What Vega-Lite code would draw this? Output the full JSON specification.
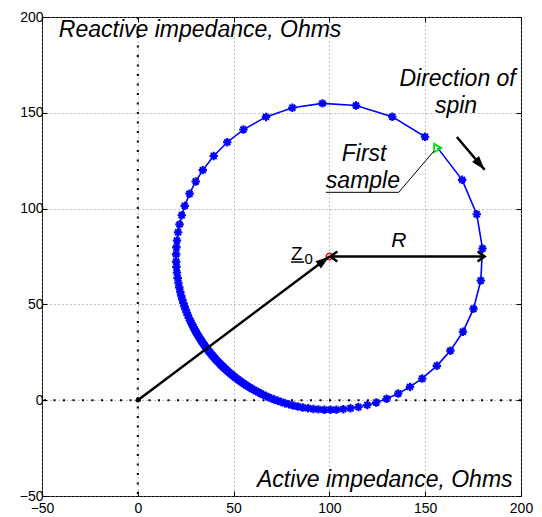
{
  "$schema": "https://vega.github.io/schema/vega-lite/v6.json",
  "width": 479,
  "height": 479,
  "autosize": {"type": "none"},
  "padding": {"left": 42, "top": 17, "right": 21, "bottom": 21},
  "background": "white",
  "config": {
    "view": {"stroke": "black", "strokeWidth": 1},
    "axis": {"labelFont": "Liberation Sans", "labelFontSize": 14, "labelColor": "black", "tickColor": "black", "domain": false, "gridColor": "#888888", "gridDash": [1, 3], "gridWidth": 1, "gridOpacity": 1, "labelFlush": false, "labelOverlap": false}
  },
  "datasets": {
    "circle": [
      {"i":1,"x":156.57,"y":131.57},{"i":2,"x":169.28,"y":115.0},{"i":3,"x":176.9,"y":97.05},{"i":4,"x":179.89,"y":79.19},
      {"i":5,"x":179.02,"y":62.49},{"i":6,"x":175.22,"y":47.77},{"i":7,"x":169.7,"y":35.73},{"i":8,"x":163.13,"y":25.86},
      {"i":9,"x":156.07,"y":17.94},{"i":10,"x":148.48,"y":11.36},{"i":11,"x":142.04,"y":6.94},{"i":12,"x":135.94,"y":3.53},
      {"i":13,"x":129.84,"y":0.78},{"i":14,"x":124.46,"y":-1.17},{"i":15,"x":119.76,"y":-2.52},{"i":16,"x":115.13,"y":-3.56},
      {"i":17,"x":110.99,"y":-4.24},{"i":18,"x":107.25,"y":-4.67},{"i":19,"x":103.63,"y":-4.92},{"i":20,"x":100.56,"y":-5.0},
      {"i":21,"x":97.35,"y":-4.96},{"i":22,"x":94.28,"y":-4.79},{"i":23,"x":91.64,"y":-4.56},{"i":24,"x":88.9,"y":-4.22},
      {"i":25,"x":86.11,"y":-3.78},{"i":26,"x":83.53,"y":-3.29},{"i":27,"x":81.18,"y":-2.75},{"i":28,"x":78.93,"y":-2.18},
      {"i":29,"x":76.84,"y":-1.58},{"i":30,"x":74.88,"y":-0.95},{"i":31,"x":73.06,"y":-0.33},{"i":32,"x":71.34,"y":0.31},
      {"i":33,"x":69.74,"y":0.94},{"i":34,"x":68.22,"y":1.58},{"i":35,"x":66.78,"y":2.22},{"i":36,"x":65.41,"y":2.86},
      {"i":37,"x":64.12,"y":3.5},{"i":38,"x":62.89,"y":4.13},{"i":39,"x":61.71,"y":4.76},{"i":40,"x":60.59,"y":5.38},
      {"i":41,"x":59.52,"y":6.0},{"i":42,"x":58.49,"y":6.61},{"i":43,"x":57.5,"y":7.22},{"i":44,"x":56.54,"y":7.83},
      {"i":45,"x":55.62,"y":8.44},{"i":46,"x":54.74,"y":9.03},{"i":47,"x":53.89,"y":9.63},{"i":48,"x":53.06,"y":10.22},
      {"i":49,"x":52.25,"y":10.82},{"i":50,"x":51.46,"y":11.41},{"i":51,"x":50.71,"y":11.99},{"i":52,"x":49.97,"y":12.58},
      {"i":53,"x":49.25,"y":13.16},{"i":54,"x":48.54,"y":13.74},{"i":55,"x":47.85,"y":14.34},{"i":56,"x":47.18,"y":14.92},
      {"i":57,"x":46.51,"y":15.51},{"i":58,"x":45.86,"y":16.1},{"i":59,"x":45.22,"y":16.7},{"i":60,"x":44.59,"y":17.3},
      {"i":61,"x":43.97,"y":17.9},{"i":62,"x":43.35,"y":18.51},{"i":63,"x":42.75,"y":19.12},{"i":64,"x":42.16,"y":19.74},
      {"i":65,"x":41.57,"y":20.36},{"i":66,"x":40.98,"y":20.99},{"i":67,"x":40.41,"y":21.63},{"i":68,"x":39.84,"y":22.28},
      {"i":69,"x":39.26,"y":22.95},{"i":70,"x":38.7,"y":23.59},{"i":71,"x":38.14,"y":24.29},{"i":72,"x":37.56,"y":24.99},
      {"i":73,"x":36.99,"y":25.71},{"i":74,"x":36.43,"y":26.43},{"i":75,"x":35.88,"y":27.17},{"i":76,"x":35.3,"y":27.94},
      {"i":77,"x":34.74,"y":28.72},{"i":78,"x":34.18,"y":29.51},{"i":79,"x":33.62,"y":30.34},{"i":80,"x":33.06,"y":31.19},
      {"i":81,"x":32.49,"y":32.07},{"i":82,"x":31.93,"y":32.98},{"i":83,"x":31.35,"y":33.92},{"i":84,"x":30.78,"y":34.9},
      {"i":85,"x":30.21,"y":35.9},{"i":86,"x":29.63,"y":36.95},{"i":87,"x":29.05,"y":38.05},{"i":88,"x":28.46,"y":39.19},
      {"i":89,"x":27.88,"y":40.38},{"i":90,"x":27.29,"y":41.63},{"i":91,"x":26.7,"y":42.94},{"i":92,"x":26.11,"y":44.34},
      {"i":93,"x":25.52,"y":45.79},{"i":94,"x":24.94,"y":47.34},{"i":95,"x":24.35,"y":48.97},{"i":96,"x":23.78,"y":50.7},
      {"i":97,"x":23.22,"y":52.54},{"i":98,"x":22.66,"y":54.52},{"i":99,"x":22.14,"y":56.64},{"i":100,"x":21.64,"y":58.9},
      {"i":101,"x":21.18,"y":61.27},{"i":102,"x":20.78,"y":63.86},{"i":103,"x":20.43,"y":66.68},{"i":104,"x":20.18,"y":69.56},
      {"i":105,"x":20.04,"y":72.35},{"i":106,"x":20.01,"y":76.12},{"i":107,"x":20.14,"y":79.74},{"i":108,"x":20.44,"y":83.36},
      {"i":109,"x":21.01,"y":87.65},{"i":110,"x":21.78,"y":91.77},{"i":111,"x":22.94,"y":96.51},{"i":112,"x":24.5,"y":101.44},
      {"i":113,"x":27.03,"y":107.79},{"i":114,"x":30.23,"y":114.15},{"i":115,"x":33.91,"y":120.08},{"i":116,"x":39.62,"y":127.49},
      {"i":117,"x":46.68,"y":134.64},{"i":118,"x":55.15,"y":141.25},{"i":119,"x":66.95,"y":147.86},{"i":120,"x":80.65,"y":152.62},
      {"i":121,"x":96.37,"y":154.92},{"i":122,"x":113.89,"y":153.78},{"i":123,"x":132.79,"y":147.97},{"i":124,"x":149.91,"y":137.52}
    ],
    "pts": [
      {"name":"origin","x":0,"y":0},
      {"name":"center","x":100,"y":75},
      {"name":"first","x":156.57,"y":131.57}
    ],
    "segs": [
      {"name":"Z0","x":0,"y":0,"x2":100,"y2":75},
      {"name":"R","x":100.5,"y":75,"x2":181,"y2":75},
      {"name":"spin","x":166.5,"y":137.4,"x2":181.0,"y2":120.3},
      {"name":"Zbar","x":80,"y":72.1,"x2":86.8,"y2":72.1}
    ],
    "heads": [
      {"name":"Z0","x":100,"y":75},
      {"name":"spin","x":181.0,"y":120.3},
      {"name":"Rright","x":181,"y":75},
      {"name":"Rleft","x":100.5,"y":75}
    ],
    "leader": [
      {"k":1,"x":154.6,"y":130.1},
      {"k":2,"x":136.2,"y":108.5},
      {"k":3,"x":98.2,"y":108.5}
    ],
    "labels": [
      {"label":"Reactive impedance, Ohms","x":-41.2,"y":189.6},
      {"label":"Active impedance, Ohms","x":195.6,"y":-45.3},
      {"label":"Direction of","x":166.9,"y":164.0},
      {"label":"spin","x":166.1,"y":149.9},
      {"label":"First","x":118.1,"y":124.8},
      {"label":"sample","x":117.5,"y":110.8},
      {"label":"R","x":136.3,"y":80.0},
      {"label":"Z","x":80.0,"y":73.4},
      {"label":"0","x":87.0,"y":71.0}
    ]
  },
  "layer": [
    {
      "data": {"name": "circle"},
      "mark": {"type": "line", "color": "#0000ff", "strokeWidth": 1.6},
      "encoding": {
        "x": {"field": "x", "type": "quantitative", "title": null, "scale": {"domain": [-50, 200], "nice": false, "zero": false},
              "axis": {"orient": "bottom", "values": [-50, 0, 50, 100, 150, 200], "grid": true, "tickSize": -5, "labelPadding": 10}},
        "y": {"field": "y", "type": "quantitative", "title": null, "scale": {"domain": [-50, 200], "nice": false, "zero": false},
              "axis": {"orient": "left", "values": [-50, 0, 50, 100, 150, 200], "grid": true, "tickSize": -5, "labelPadding": 4}},
        "order": {"field": "i"}
      }
    },
    {
      "data": {"name": "pts"},
      "transform": [{"filter": "datum.name == 'origin'"}],
      "mark": {"type": "rule", "color": "black", "strokeWidth": 2, "strokeDash": [2, 7.5]},
      "encoding": {
        "x": {"field": "x", "type": "quantitative", "title": null, "scale": {"domain": [-50, 200], "nice": false, "zero": false}, "axis": null}
      }
    },
    {
      "data": {"name": "pts"},
      "transform": [{"filter": "datum.name == 'origin'"}],
      "mark": {"type": "rule", "color": "black", "strokeWidth": 2, "strokeDash": [2, 7.5]},
      "encoding": {
        "y": {"field": "y", "type": "quantitative", "title": null, "scale": {"domain": [-50, 200], "nice": false, "zero": false}, "axis": null}
      }
    },
    {
      "data": {"name": "circle"},
      "transform": [{"filter": "datum.i > 1"}],
      "mark": {"type": "point", "shape": "M-1,0L1,0M0,-1L0,1M-0.7,-0.7L0.7,0.7M-0.7,0.7L0.7,-0.7", "size": 72, "filled": false, "color": "#0000ff", "strokeWidth": 2.1, "opacity": 1},
      "encoding": {
        "x": {"field": "x", "type": "quantitative", "title": null, "scale": {"domain": [-50, 200], "nice": false, "zero": false},
              "axis": {"orient": "top", "values": [-50, 0, 50, 100, 150, 200], "grid": false, "labels": false, "tickSize": -5}},
        "y": {"field": "y", "type": "quantitative", "title": null, "scale": {"domain": [-50, 200], "nice": false, "zero": false},
              "axis": {"orient": "right", "values": [-50, 0, 50, 100, 150, 200], "grid": false, "labels": false, "tickSize": -5}}
      }
    },
    {
      "data": {"name": "pts"},
      "transform": [{"filter": "datum.name == 'first'"}],
      "mark": {"type": "point", "shape": "triangle-right", "size": 70, "filled": false, "color": "#00dd00", "strokeWidth": 1.8, "opacity": 1},
      "encoding": {
        "x": {"field": "x", "type": "quantitative", "title": null, "scale": {"domain": [-50, 200], "nice": false, "zero": false}, "axis": null},
        "y": {"field": "y", "type": "quantitative", "title": null, "scale": {"domain": [-50, 200], "nice": false, "zero": false}, "axis": null}
      }
    },
    {
      "data": {"name": "pts"},
      "transform": [{"filter": "datum.name == 'center'"}],
      "mark": {"type": "point", "shape": "circle", "size": 40, "filled": false, "color": "#ff0000", "strokeWidth": 1.5, "opacity": 1},
      "encoding": {
        "x": {"field": "x", "type": "quantitative", "title": null, "scale": {"domain": [-50, 200], "nice": false, "zero": false}, "axis": null},
        "y": {"field": "y", "type": "quantitative", "title": null, "scale": {"domain": [-50, 200], "nice": false, "zero": false}, "axis": null}
      }
    },
    {
      "data": {"name": "pts"},
      "transform": [{"filter": "datum.name == 'origin'"}],
      "mark": {"type": "point", "shape": "circle", "size": 22, "filled": true, "color": "black", "opacity": 1},
      "encoding": {
        "x": {"field": "x", "type": "quantitative", "title": null, "scale": {"domain": [-50, 200], "nice": false, "zero": false}, "axis": null},
        "y": {"field": "y", "type": "quantitative", "title": null, "scale": {"domain": [-50, 200], "nice": false, "zero": false}, "axis": null}
      }
    },
    {
      "data": {"name": "segs"},
      "transform": [{"filter": "datum.name != 'Zbar'"}],
      "mark": {"type": "rule", "color": "black", "strokeWidth": 2.5},
      "encoding": {
        "x": {"field": "x", "type": "quantitative", "title": null, "scale": {"domain": [-50, 200], "nice": false, "zero": false}, "axis": null},
        "y": {"field": "y", "type": "quantitative", "title": null, "scale": {"domain": [-50, 200], "nice": false, "zero": false}, "axis": null},
        "x2": {"field": "x2"},
        "y2": {"field": "y2"}
      }
    },
    {
      "data": {"name": "segs"},
      "transform": [{"filter": "datum.name == 'Zbar'"}],
      "mark": {"type": "rule", "color": "black", "strokeWidth": 1.5},
      "encoding": {
        "x": {"field": "x", "type": "quantitative", "title": null, "scale": {"domain": [-50, 200], "nice": false, "zero": false}, "axis": null},
        "y": {"field": "y", "type": "quantitative", "title": null, "scale": {"domain": [-50, 200], "nice": false, "zero": false}, "axis": null},
        "x2": {"field": "x2"},
        "y2": {"field": "y2"}
      }
    },
    {
      "data": {"name": "heads"},
      "transform": [{"filter": "datum.name == 'Z0'"}],
      "mark": {"type": "point", "shape": "M0,0L-0.45,1.4L0.45,1.4Z", "size": 400, "filled": true, "color": "black", "angle": 53.13, "opacity": 1},
      "encoding": {
        "x": {"field": "x", "type": "quantitative", "title": null, "scale": {"domain": [-50, 200], "nice": false, "zero": false}, "axis": null},
        "y": {"field": "y", "type": "quantitative", "title": null, "scale": {"domain": [-50, 200], "nice": false, "zero": false}, "axis": null}
      }
    },
    {
      "data": {"name": "heads"},
      "transform": [{"filter": "datum.name == 'spin'"}],
      "mark": {"type": "point", "shape": "M0,0L-0.45,1.4L0.45,1.4Z", "size": 400, "filled": true, "color": "black", "angle": 139.8, "opacity": 1},
      "encoding": {
        "x": {"field": "x", "type": "quantitative", "title": null, "scale": {"domain": [-50, 200], "nice": false, "zero": false}, "axis": null},
        "y": {"field": "y", "type": "quantitative", "title": null, "scale": {"domain": [-50, 200], "nice": false, "zero": false}, "axis": null}
      }
    },
    {
      "data": {"name": "heads"},
      "transform": [{"filter": "datum.name == 'Rright'"}],
      "mark": {"type": "point", "shape": "M-0.7,1L0,0L0.7,1", "size": 196, "filled": false, "color": "black", "strokeWidth": 2.5, "angle": 90, "opacity": 1},
      "encoding": {
        "x": {"field": "x", "type": "quantitative", "title": null, "scale": {"domain": [-50, 200], "nice": false, "zero": false}, "axis": null},
        "y": {"field": "y", "type": "quantitative", "title": null, "scale": {"domain": [-50, 200], "nice": false, "zero": false}, "axis": null}
      }
    },
    {
      "data": {"name": "heads"},
      "transform": [{"filter": "datum.name == 'Rleft'"}],
      "mark": {"type": "point", "shape": "M-0.7,1L0,0L0.7,1", "size": 196, "filled": false, "color": "black", "strokeWidth": 2.5, "angle": 270, "opacity": 1},
      "encoding": {
        "x": {"field": "x", "type": "quantitative", "title": null, "scale": {"domain": [-50, 200], "nice": false, "zero": false}, "axis": null},
        "y": {"field": "y", "type": "quantitative", "title": null, "scale": {"domain": [-50, 200], "nice": false, "zero": false}, "axis": null}
      }
    },
    {
      "data": {"name": "leader"},
      "mark": {"type": "line", "color": "black", "strokeWidth": 1},
      "encoding": {
        "x": {"field": "x", "type": "quantitative", "title": null, "scale": {"domain": [-50, 200], "nice": false, "zero": false}, "axis": null},
        "y": {"field": "y", "type": "quantitative", "title": null, "scale": {"domain": [-50, 200], "nice": false, "zero": false}, "axis": null},
        "order": {"field": "k"}
      }
    },
    {
      "data": {"name": "labels"},
      "transform": [{"filter": "datum.label == 'Reactive impedance, Ohms'"}],
      "mark": {"type": "text", "font": "Liberation Sans", "fontStyle": "italic", "fontSize": 23, "align": "left", "baseline": "alphabetic", "color": "black"},
      "encoding": {
        "x": {"field": "x", "type": "quantitative", "title": null, "scale": {"domain": [-50, 200], "nice": false, "zero": false}, "axis": null},
        "y": {"field": "y", "type": "quantitative", "title": null, "scale": {"domain": [-50, 200], "nice": false, "zero": false}, "axis": null},
        "text": {"field": "label"}
      }
    },
    {
      "data": {"name": "labels"},
      "transform": [{"filter": "datum.label == 'Active impedance, Ohms'"}],
      "mark": {"type": "text", "font": "Liberation Sans", "fontStyle": "italic", "fontSize": 23, "align": "right", "baseline": "alphabetic", "color": "black"},
      "encoding": {
        "x": {"field": "x", "type": "quantitative", "title": null, "scale": {"domain": [-50, 200], "nice": false, "zero": false}, "axis": null},
        "y": {"field": "y", "type": "quantitative", "title": null, "scale": {"domain": [-50, 200], "nice": false, "zero": false}, "axis": null},
        "text": {"field": "label"}
      }
    },
    {
      "data": {"name": "labels"},
      "transform": [{"filter": "indexof(['Direction of', 'spin', 'First', 'sample'], datum.label) >= 0"}],
      "mark": {"type": "text", "font": "Liberation Sans", "fontStyle": "italic", "fontSize": 23, "align": "center", "baseline": "alphabetic", "color": "black"},
      "encoding": {
        "x": {"field": "x", "type": "quantitative", "title": null, "scale": {"domain": [-50, 200], "nice": false, "zero": false}, "axis": null},
        "y": {"field": "y", "type": "quantitative", "title": null, "scale": {"domain": [-50, 200], "nice": false, "zero": false}, "axis": null},
        "text": {"field": "label"}
      }
    },
    {
      "data": {"name": "labels"},
      "transform": [{"filter": "datum.label == 'R'"}],
      "mark": {"type": "text", "font": "Liberation Sans", "fontStyle": "italic", "fontSize": 21, "align": "center", "baseline": "alphabetic", "color": "black"},
      "encoding": {
        "x": {"field": "x", "type": "quantitative", "title": null, "scale": {"domain": [-50, 200], "nice": false, "zero": false}, "axis": null},
        "y": {"field": "y", "type": "quantitative", "title": null, "scale": {"domain": [-50, 200], "nice": false, "zero": false}, "axis": null},
        "text": {"field": "label"}
      }
    },
    {
      "data": {"name": "labels"},
      "transform": [{"filter": "datum.label == 'Z'"}],
      "mark": {"type": "text", "font": "Liberation Sans", "fontSize": 19, "align": "left", "baseline": "alphabetic", "color": "black"},
      "encoding": {
        "x": {"field": "x", "type": "quantitative", "title": null, "scale": {"domain": [-50, 200], "nice": false, "zero": false}, "axis": null},
        "y": {"field": "y", "type": "quantitative", "title": null, "scale": {"domain": [-50, 200], "nice": false, "zero": false}, "axis": null},
        "text": {"field": "label"}
      }
    },
    {
      "data": {"name": "labels"},
      "transform": [{"filter": "datum.label == '0'"}],
      "mark": {"type": "text", "font": "Liberation Sans", "fontSize": 15, "align": "left", "baseline": "alphabetic", "color": "black"},
      "encoding": {
        "x": {"field": "x", "type": "quantitative", "title": null, "scale": {"domain": [-50, 200], "nice": false, "zero": false}, "axis": null},
        "y": {"field": "y", "type": "quantitative", "title": null, "scale": {"domain": [-50, 200], "nice": false, "zero": false}, "axis": null},
        "text": {"field": "label"}
      }
    }
  ]
}
